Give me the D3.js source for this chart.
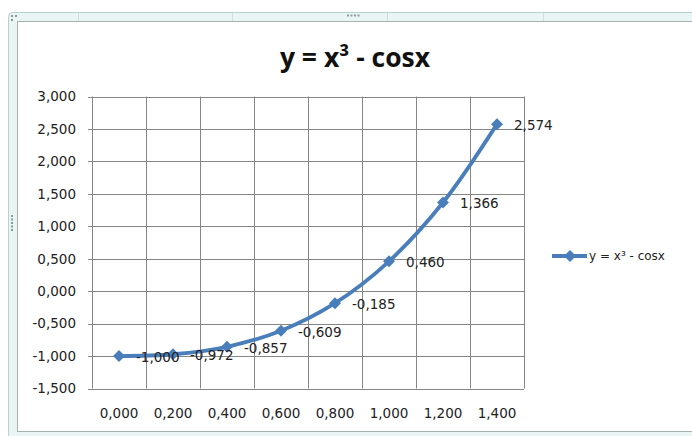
<!DOCTYPE html>
<html><head><meta charset="utf-8">
<script src="https://cdn.jsdelivr.net/npm/d3@7"></script>
<style>html,body{margin:0;padding:0;background:#fff;}svg{display:block;}</style>
</head><body>
<svg id="c" width="692" height="436"></svg>
<script>
const categories = ["0,000","0,200","0,400","0,600","0,800","1,000","1,200","1,400"];
const values = [-1.000, -0.972, -0.857, -0.609, -0.185, 0.460, 1.366, 2.574];
const yTicks = [-1.5, -1.0, -0.5, 0, 0.5, 1.0, 1.5, 2.0, 2.5, 3.0];
const seriesName = "y = x\u00B3 - cosx";
const titleText = "y = x\u00B3 - cosx";

const loc = d3.formatLocale({decimal: ",", thousands: ".", grouping: [3], currency: ["", ""], minus: "-"});
const fmt = loc.format(".3f");

const svg = d3.select("#c");
const blue = "#4a7ebb", grid = "#868686";

// spreadsheet / frame background
svg.append("rect").attr("x", 0).attr("y", 0).attr("width", 692).attr("height", 436).attr("fill", "#fff");
svg.append("rect").attr("x", 8.5).attr("y", 12.5).attr("width", 690).attr("height", 428).attr("rx", 4)
  .attr("fill", "#e9f5f5").attr("stroke", "#b9d0d0");
[78, 232, 387, 543].forEach(x => svg.append("line").attr("x1", x + .5).attr("x2", x + .5).attr("y1", 13).attr("y2", 21).attr("stroke", "#cfdede"));
svg.append("rect").attr("x", 17.5).attr("y", 21.5).attr("width", 680).attr("height", 410)
  .attr("fill", "#fff").attr("stroke", "#a8b0b0");
// handles
[0,1,2,3].forEach(i => svg.append("rect").attr("x", 347 + i*3.5).attr("y", 14.5).attr("width", 2).attr("height", 2).attr("fill", "#8a9a9a"));
[0,1,2,3,4].forEach(i => svg.append("rect").attr("x", 11).attr("y", 215 + i*3.5).attr("width", 2).attr("height", 2).attr("fill", "#8a9a9a"));
svg.append("rect").attr("x", 11).attr("y", 15).attr("width", 2).attr("height", 2).attr("fill", "#8a9a9a");
svg.append("rect").attr("x", 15).attr("y", 15).attr("width", 2).attr("height", 2).attr("fill", "#8a9a9a");
svg.append("rect").attr("x", 11).attr("y", 19).attr("width", 2).attr("height", 2).attr("fill", "#8a9a9a");

// title
svg.append("text").attr("x", 355).attr("y", 67).attr("text-anchor", "middle")
  .attr("font-family", "'Open Sans', sans-serif").attr("font-weight", "bold").attr("font-size", 26.5)
  .attr("fill", "#111").text(titleText);

const x = d3.scaleBand().domain(categories).range([92, 524]).padding(0);
const y = d3.scaleLinear().domain([-1.5, 3]).range([388.5, 96.5]);
const cx = c => x(c) + x.bandwidth() / 2;

const g = svg.append("g");
// horizontal gridlines
g.selectAll("line.h").data(yTicks).join("line").attr("class", "h")
  .attr("x1", 88).attr("x2", 524).attr("y1", d => Math.round(y(d)) + .5).attr("y2", d => Math.round(y(d)) + .5)
  .attr("stroke", grid).attr("stroke-width", 1);
// vertical gridlines at category boundaries
const bounds = categories.map(c => x(c)).concat([x.range()[1]]);
g.selectAll("line.v").data(bounds).join("line").attr("class", "v")
  .attr("x1", d => Math.round(d) + .5).attr("x2", d => Math.round(d) + .5)
  .attr("y1", y(3)).attr("y2", y(-1.5))
  .attr("stroke", grid).attr("stroke-width", 1);

// y labels
g.selectAll("text.yl").data(yTicks).join("text").attr("class", "yl")
  .attr("x", 76).attr("y", d => y(d)).attr("dy", "0.36em").attr("text-anchor", "end")
  .attr("font-family", "'DejaVu Sans', sans-serif").attr("font-size", 13.5).attr("fill", "#222")
  .text(d => fmt(d));
// x labels
g.selectAll("text.xl").data(categories).join("text").attr("class", "xl")
  .attr("x", d => cx(d)).attr("y", 418).attr("text-anchor", "middle")
  .attr("font-family", "'DejaVu Sans', sans-serif").attr("font-size", 13.5).attr("fill", "#222")
  .text(d => d);

// line
const line = d3.line().x((d, i) => cx(categories[i])).y(d => y(d)).curve(d3.curveCatmullRom.alpha(0.5));
g.append("path").datum(values).attr("d", line).attr("fill", "none").attr("stroke", blue)
  .attr("stroke-width", 3.8).attr("stroke-linejoin", "round").attr("stroke-linecap", "round");
const diamond = d3.symbol().type(d3.symbolSquare).size(72);
g.selectAll("path.m").data(values).join("path").attr("class", "m").attr("d", diamond)
  .attr("transform", (d, i) => `translate(${cx(categories[i])},${y(d)}) rotate(45)`)
  .attr("fill", blue);
// data labels
g.selectAll("text.dl").data(values).join("text").attr("class", "dl")
  .attr("x", (d, i) => cx(categories[i]) + 17).attr("y", d => y(d) + 1).attr("dy", "0.36em")
  .attr("font-family", "'DejaVu Sans', sans-serif").attr("font-size", 13.5).attr("fill", "#222")
  .text(d => fmt(d));

// legend
const lg = svg.append("g");
lg.append("line").attr("x1", 552).attr("x2", 587).attr("y1", 256).attr("y2", 256).attr("stroke", blue).attr("stroke-width", 3.8);
lg.append("path").attr("d", diamond).attr("transform", "translate(570,256) rotate(45)").attr("fill", blue);
lg.append("text").attr("x", 589).attr("y", 256).attr("dy", "0.36em")
  .attr("font-family", "'DejaVu Sans', sans-serif").attr("font-size", 12).attr("fill", "#222").text(seriesName);
</script>
</body></html>
